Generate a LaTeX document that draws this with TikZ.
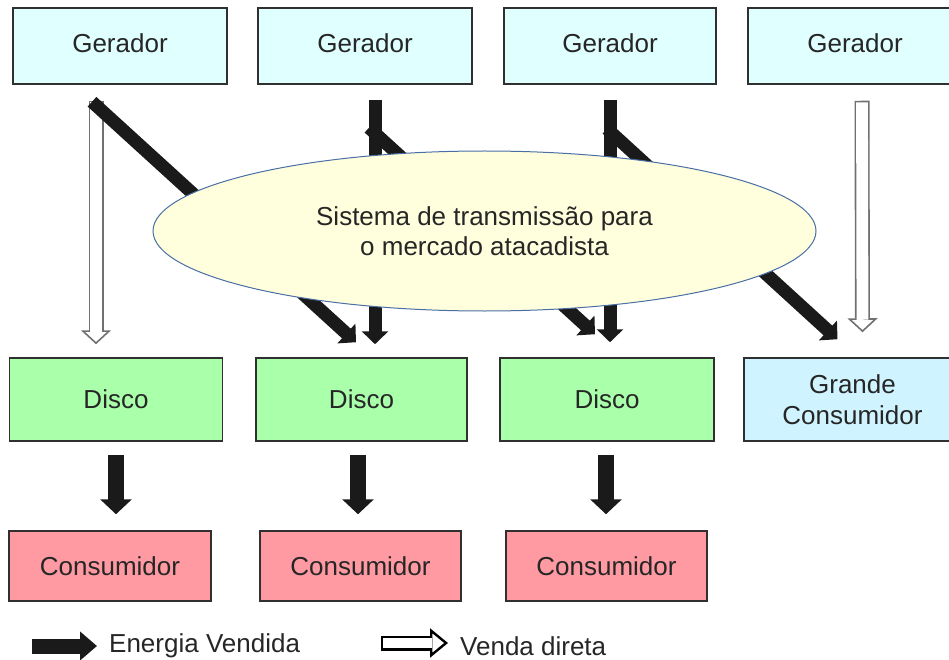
\documentclass[tikz,border=0pt]{standalone}
\usepackage{fontspec}
\setmainfont{Liberation Sans}
\usetikzlibrary{arrows.meta,shapes.geometric,calc}
\definecolor{genfill}{HTML}{E0FFFF}
\definecolor{bigfill}{HTML}{D0F4FF}
\definecolor{discofill}{HTML}{AAFFAA}
\definecolor{consfill}{HTML}{FF9AA2}
\definecolor{ellfill}{HTML}{FFFFDD}
\definecolor{elldraw}{HTML}{4A6FA5}
\definecolor{boxline}{HTML}{303030}
\definecolor{txt}{HTML}{262626}
\definecolor{arrowblack}{HTML}{1A1A1A}
\definecolor{hollowgray}{HTML}{707070}
\begin{document}
\begin{tikzpicture}[x=1pt,y=-1pt,
  box/.style={draw=boxline, line width=1.5pt, inner sep=0pt, text=txt, align=center,
    font=\fontsize{26}{31}\selectfont},
  gen/.style={box, fill=genfill, minimum width=214pt, minimum height=76pt, text depth=5pt},
  disco/.style={box, fill=discofill, minimum width=213pt, minimum height=83pt},
  big/.style={box, fill=bigfill, minimum width=217pt, minimum height=83pt},
  cons/.style={box, fill=consfill, minimum width=201pt, minimum height=70pt},
  flow/.style={draw=arrowblack, line width=13pt, -{Triangle[width=26pt,length=13pt]}},
  bigflow/.style={draw=arrowblack, line width=16pt, -{Triangle[width=31pt,length=15pt]}},
  direct/.style={draw=hollowgray, line width=15pt,
    -{Triangle[width=30pt,length=14pt,fill=white,line width=1.6pt]},
    postaction={draw=white, line width=11.8pt, shorten >=12.5pt, shorten <=1.6pt, -}},
  legflow/.style={draw=arrowblack, line width=15pt, -{Triangle[width=28pt,length=17pt]}},
  legdirect/.style={draw=black, line width=15pt,
    -{Triangle[width=29pt,length=18pt,fill=white,line width=2.4pt]},
    postaction={draw=white, line width=10.2pt, shorten >=16pt, shorten <=2.4pt, -}},
  legtext/.style={anchor=west, inner sep=0pt, text=txt, font=\fontsize{26}{31}\selectfont}
]
\useasboundingbox (0,0) rectangle (949,660);
\clip (0,0) rectangle (949,660);

% generators
\node[gen] (g1) at (120,46) {Gerador};
\node[gen] (g2) at (365,46) {Gerador};
\node[gen, minimum width=212pt] (g3) at (610,46) {Gerador};
\node[gen] (g4) at (855,46) {Gerador};

% distributors
\node[disco] (d1) at (116,399.5) {Disco};
\node[disco, minimum width=211pt] (d2) at (361.5,399.5) {Disco};
\node[disco, minimum width=214pt] (d3) at (607,399.5) {Disco};
\node[big] (gc) at (852.5,399.5) {Grande\\Consumidor};

% consumers
\node[cons, minimum width=202pt] (c1) at (110,566) {Consumidor};
\node[cons] (c2) at (360.5,566) {Consumidor};
\node[cons] (c3) at (606.5,566) {Consumidor};

% flows from generators
\draw[direct] ($(g1.south)+(-24,16)$) -- ($(d1.north)+(-20,-13)$);
\draw[flow] ($(g1.south)+(-28,17)$) -- ($(d2.north)+(-5.5,-15)$);
\draw[flow] ($(g2.south)+(4,43)$) -- ($(d3.north)+(-12,-23)$);
\draw[flow] ($(g2.south)+(10,15)$) -- ($(d2.north)+(13.5,-13)$);
\draw[flow] ($(g3.south)+(-3,44)$) -- ($(gc.north)+(-15,-18)$);
\draw[flow] ($(g3.south)+(0,15)$) -- ($(d3.north)+(3,-15)$);
\draw[direct] ($(g4.south)+(7,16)$) -- ($(gc.north)+(10,-25)$);

% transmission system
\node[ellipse, draw=elldraw, line width=1pt, fill=ellfill, minimum width=663pt,
  minimum height=160pt, inner sep=0pt, align=center, text=txt,
  font=\fontsize{26}{30}\selectfont] (sys) at (484.5,231)
  {Sistema de transmissão para\\o mercado atacadista};

% distributor to consumer
\draw[bigflow] ($(d1.south)+(0,13)$) -- ($(c1.north)+(6,-16)$);
\draw[bigflow] ($(d2.south)+(-3.5,13)$) -- ($(c2.north)+(-2.5,-16)$);
\draw[bigflow] ($(d3.south)+(-1,13)$) -- ($(c3.north)+(-0.5,-16)$);

% legend
\coordinate (la) at (32,646);
\coordinate (lb) at (97,646);
\draw[legflow] (la) -- (lb);
\node[legtext] (lt1) at (109,646) {Energia Vendida};
\coordinate (lc) at (381,643);
\coordinate (ld) at (448,643);
\draw[legdirect] (lc) -- (ld);
\node[legtext] (lt2) at (460,646) {Venda direta};
\end{tikzpicture}
\end{document}
